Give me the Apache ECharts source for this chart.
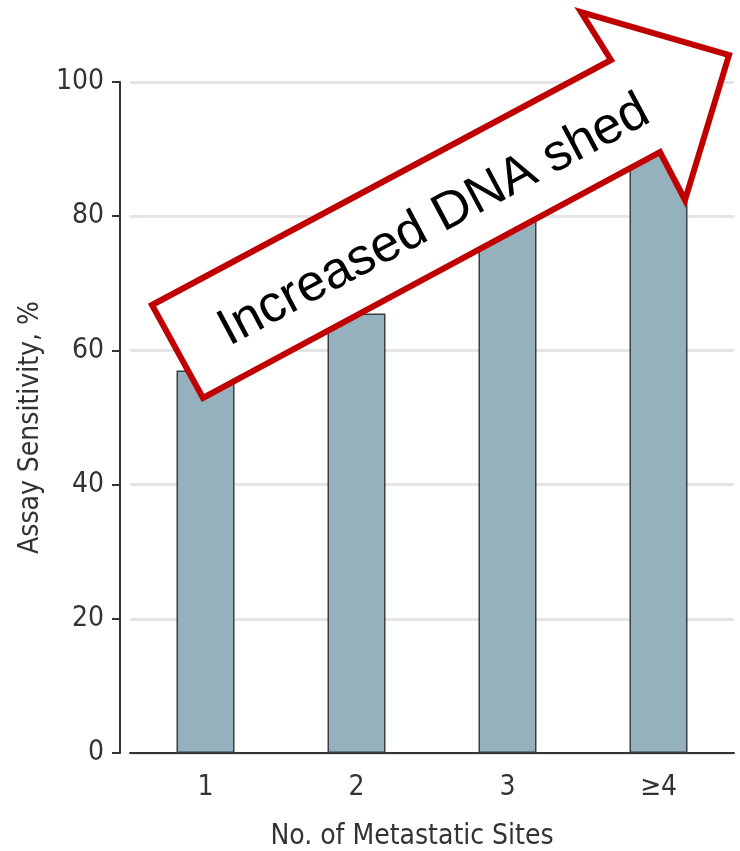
<!DOCTYPE html>
<html>
<head>
<meta charset="utf-8">
<script src="https://cdn.jsdelivr.net/npm/echarts@6/dist/echarts.min.js"></script>
<style>html,body{margin:0;padding:0;background:#fff}#c{width:740px;height:851px}</style>
</head>
<body>
<div id="c"></div>
<script>
var categories = ['1', '2', '3', '≥4'];
var sensitivity = [57, 65.5, 83, 92];
var yTicks = [0, 20, 40, 60, 80, 100];
var xTitle = 'No. of Metastatic Sites';
var yTitle = 'Assay Sensitivity, %';
var arrowText = 'Increased DNA shed';

var font = "'Liberation Sans Narrow', 'DejaVu Sans Condensed', 'Roboto', sans-serif";
var chart = echarts.init(document.getElementById('c'), null, {renderer: 'canvas'});
chart.setOption({
  animation: false,
  backgroundColor: '#fff',
  grid: {left: 130, right: 6, top: 82, bottom: 98, containLabel: false, outerBoundsMode: 'none'},
  xAxis: {
    type: 'category',
    data: categories,
    axisLine: {lineStyle: {color: '#333', width: 2}},
    axisTick: {show: false},
    axisLabel: {color: '#333', fontSize: 28, fontFamily: font, margin: 21},
    name: xTitle,
    nameLocation: 'middle',
    nameGap: 70,
    nameTextStyle: {color: '#333', fontSize: 28, fontFamily: font, padding: [0, 40, 0, 0]}
  },
  yAxis: {
    type: 'value',
    min: yTicks[0],
    max: yTicks[yTicks.length - 1],
    interval: yTicks[1] - yTicks[0],
    offset: 10,
    axisLine: {show: true, lineStyle: {color: '#333', width: 2}},
    axisTick: {show: true, length: 8, lineStyle: {color: '#333', width: 2}},
    axisLabel: {color: '#333', fontSize: 28, fontFamily: font, margin: 16},
    splitLine: {show: true, lineStyle: {color: '#e4e6e6', width: 3}},
    name: yTitle,
    nameLocation: 'middle',
    nameGap: 74,
    nameTextStyle: {color: '#333', fontSize: 28, fontFamily: font, padding: [0, 20, 0, 0]}
  },
  series: [{
    type: 'bar',
    data: sensitivity,
    barWidth: 58,
    itemStyle: {color: '#95b1bd', borderColor: '#3a3f44', borderWidth: 1.5}
  }],
  graphic: [{
    type: 'polygon',
    z: 100,
    shape: {points: [[152, 305], [611, 60], [581, 12], [729, 55], [685, 200], [660, 152], [203, 398]]},
    style: {fill: '#fff', stroke: '#c00000', lineWidth: 6, lineJoin: 'miter'}
  }, {
    type: 'text',
    z: 101,
    x: 434,
    y: 221,
    rotation: 28 * Math.PI / 180,
    style: {text: arrowText, fill: '#000', font: "52px 'Liberation Sans', Arial, sans-serif", align: 'center', verticalAlign: 'middle'}
  }]
});
</script>
</body>
</html>
